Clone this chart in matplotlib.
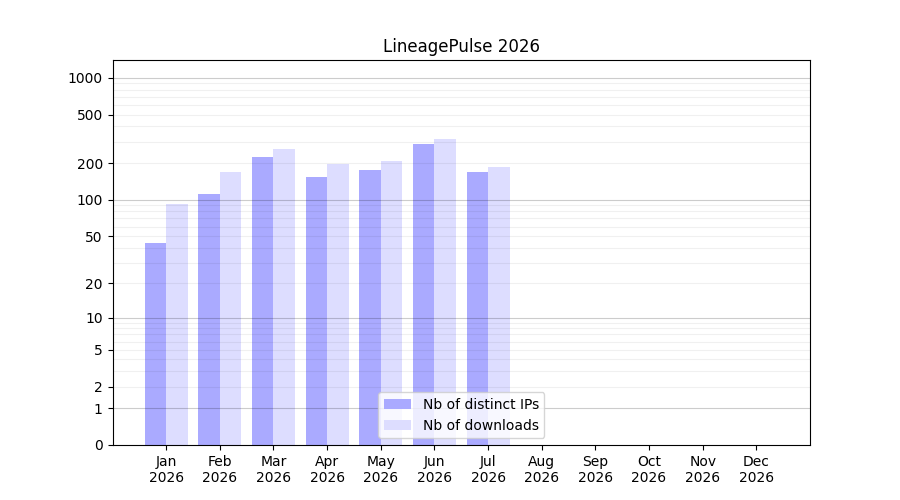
import numpy as np
import matplotlib
matplotlib.use("Agg")
import matplotlib.pyplot as plt

# data
months = ["Jan", "Feb", "Mar", "Apr", "May", "Jun", "Jul", "Aug", "Sep", "Oct", "Nov", "Dec"]
year = "2026"
distinct_ips = [44, 112, 225, 154, 176, 288, 170, 0, 0, 0, 0, 0]
downloads = [92, 170, 262, 197, 209, 317, 186, 0, 0, 0, 0, 0]
ytick_values = [0, 1, 2, 5, 10, 20, 50, 100, 200, 500, 1000]


def fwd(x):
    return np.log10(1 + np.maximum(x, 0))


def inv(y):
    return 10 ** y - 1


fig, ax = plt.subplots(figsize=(9, 5), dpi=100)

x = np.arange(len(months))
w = 0.4
ax.bar(x - w / 2, distinct_ips, width=w, color="#aaaaff", label="Nb of distinct IPs")
ax.bar(x + w / 2, downloads, width=w, color="#ddddff", label="Nb of downloads")

ax.set_yscale("function", functions=(fwd, inv))
ax.set_ylim(0, 1400)
ax.set_xlim(-1, len(months))

ax.set_yticks(ytick_values)
ax.set_yticklabels([str(v) for v in ytick_values])
ax.minorticks_off()

# grid: decades darker, the rest faint
for dec in [1, 10, 100, 1000]:
    ax.axhline(dec, color="k", alpha=0.2, lw=0.8, zorder=3)
    if dec < 1000:
        for m in range(2, 10):
            ax.axhline(dec * m, color="k", alpha=0.06, lw=0.8, zorder=3)

ax.set_xticks(x)
ax.set_xticklabels([m + "\n" + year for m in months])

ax.set_title("LineagePulse " + year)
ax.legend(loc="lower center")

fig.savefig("out.png")
